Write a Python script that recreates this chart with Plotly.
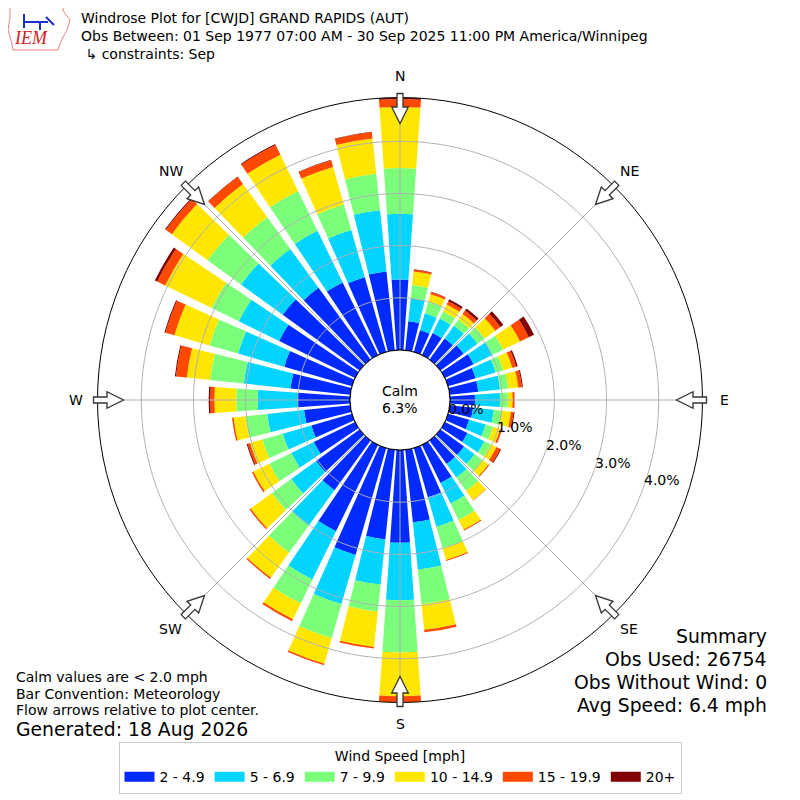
import numpy as np
import plotly.graph_objects as go

# wind direction bins (degrees, meteorological convention)
directions = list(range(0, 360, 10))

speed_bins = ["2 - 4.9", "5 - 6.9", "7 - 9.9", "10 - 14.9", "15 - 19.9", "20+"]
bin_colors = ["#002aff", "#00d4ff", "#7bff7b", "#ffe600", "#ff4800", "#800000"]

# cumulative frequency [%] at the top of each speed class
cum_2_49 = [1.35, 0.56, 0.43, 0.47, 0.50, 0.55, 0.61, 0.55, 0.55, 0.48, 0.45, 0.42,
            0.48, 0.56, 0.56, 0.81, 0.98, 1.40, 1.78, 1.73, 2.13, 1.84, 1.18, 1.03,
            0.88, 0.81, 0.89, 1.00, 1.15, 1.35, 1.62, 1.82, 1.70, 1.55, 1.49, 1.52]
cum_5_69 = [2.61, 1.00, 0.77, 0.78, 0.80, 0.88, 1.02, 0.95, 0.97, 0.96, 0.85, 0.75,
            0.84, 0.81, 0.88, 1.25, 1.57, 2.31, 2.88, 2.60, 3.11, 2.87, 2.02, 1.62,
            1.36, 1.38, 1.60, 1.77, 2.05, 2.27, 2.48, 2.81, 2.62, 2.65, 2.43, 2.70]
cum_7_99 = [3.49, 1.26, 1.01, 0.93, 0.95, 1.05, 1.24, 1.10, 1.13, 1.11, 1.00, 0.90,
            0.98, 1.00, 1.20, 1.60, 2.00, 2.98, 3.88, 3.12, 3.79, 3.38, 2.66, 2.08,
            1.83, 1.79, 2.02, 2.18, 2.70, 2.84, 3.06, 3.60, 3.37, 3.50, 2.94, 3.40]
cum_10_149 = [4.66, 1.52, 1.15, 1.08, 1.08, 1.30, 1.60, 1.28, 1.32, 1.20, 1.18, 1.04,
              1.10, 1.14, 1.41, 1.81, 2.23, 3.47, 4.72, 3.80, 4.30, 3.72, 3.25, 2.58,
              2.17, 2.03, 2.25, 2.60, 3.15, 3.54, 4.05, 4.45, 4.16, 4.27, 3.69, 4.08]
cum_15_199 = [4.81, 1.55, 1.19, 1.15, 1.16, 1.42, 1.79, 1.36, 1.39, 1.24, 1.23, 1.08,
              1.18, 1.16, 1.42, 1.83, 2.25, 3.52, 4.84, 3.83, 4.33, 3.76, 3.28, 2.61,
              2.20, 2.08, 2.28, 2.68, 3.36, 3.72, 4.22, 4.59, 4.33, 4.48, 3.82, 4.20]
cum_20p = [4.84, 1.56, 1.20, 1.19, 1.21, 1.49, 1.90, 1.39, 1.41, 1.24, 1.25, 1.08,
           1.20, 1.16, 1.42, 1.83, 2.25, 3.52, 4.84, 3.83, 4.33, 3.76, 3.28, 2.61,
           2.20, 2.10, 2.28, 2.71, 3.38, 3.74, 4.27, 4.61, 4.34, 4.50, 3.83, 4.21]

calm_pct = 6.3
radial_ticks = [0, 1, 2, 3, 4]
compass_angles = [0, 45, 90, 135, 180, 225, 270, 315]
compass_names = ["N", "NE", "E", "SE", "S", "SW", "W", "NW"]

title_lines = ["Windrose Plot for [CWJD] GRAND RAPIDS (AUT)",
               "Obs Between: 01 Sep 1977 07:00 AM - 30 Sep 2025 11:00 PM America/Winnipeg",
               " \u21b3 constraints: Sep"]
notes = ["Calm values are < 2.0 mph", "Bar Convention: Meteorology",
         "Flow arrows relative to plot center."]
summary = ["Summary", "Obs Used: 26754", "Obs Without Wind: 0", "Avg Speed: 6.4 mph"]

FONT = "DejaVu Sans"
OFF = 8                    # default body margin of the html page
W = H = 792                # figure size, so that page px 8..800 is the figure
CX, CY = 400, 400          # page px
R_OUT = 302.5              # outer ring radius px
R_HOLE = 50                # calm circle radius px

cum = np.array([cum_2_49, cum_5_69, cum_7_99, cum_10_149, cum_15_199, cum_20p])
freq = np.diff(np.vstack([np.zeros(len(directions)), cum]), axis=0)
rmax = cum[-1].max()


def px_to_paper(x, y):
    # page pixel -> paper coords
    return (x - OFF) / W, 1 - (y - OFF) / H


def polar_px(theta, rpx):
    t = np.radians(theta)
    return CX + rpx * np.sin(t), CY - rpx * np.cos(t)


def text(x, y, s, size=14, xa="center", ya="middle", **kw):
    px, py = px_to_paper(x, y)
    font = dict(family=FONT, size=size, color="black")
    font.update(kw.pop("font", {}))
    return dict(x=px, y=py, text=s, showarrow=False, xref="paper", yref="paper",
                xanchor=xa, yanchor=ya, font=font, **kw)


fig = go.Figure()

for i, name in enumerate(speed_bins):
    fig.add_trace(go.Barpolar(r=freq[i], theta=directions, width=8, name=name,
                              legendgroup=name, showlegend=False,
                              marker=dict(color=bin_colors[i], line=dict(width=0))))
    # legend handle: a wide flat patch like the matplotlib legend
    fig.add_trace(go.Scatterpolar(r=[None], theta=[None], mode="lines", name=name,
                                  legendgroup=name,
                                  line=dict(color=bin_colors[i], width=10)))

# grid drawn over the bars like the original
ring_theta = np.linspace(0, 360, 361)
for v in radial_ticks[1:]:
    fig.add_trace(go.Scatterpolar(r=[v] * len(ring_theta), theta=ring_theta, mode="lines",
                                  line=dict(color="#b0b0b0", width=1), showlegend=False,
                                  hoverinfo="skip"))
for a in compass_angles:
    fig.add_trace(go.Scatterpolar(r=[0, rmax], theta=[a, a], mode="lines",
                                  line=dict(color="#b0b0b0", width=1), showlegend=False,
                                  hoverinfo="skip"))
fig.add_trace(go.Scatterpolar(r=[0] * len(ring_theta), theta=ring_theta, mode="lines",
                              line=dict(color="black", width=1), showlegend=False,
                              hoverinfo="skip"))

annotations = []
for a, lab in zip(compass_angles, compass_names):
    annotations.append(text(*polar_px(a, 324), lab))

# radial labels, anchored on the rings along 110 deg
for v in radial_ticks:
    rpx = R_HOLE + v * (R_OUT - R_HOLE) / rmax
    x, y = polar_px(110, rpx)
    annotations.append(text(x - 1, y + 2, f"{v:.1f}%", xa="left", ya="bottom"))

annotations.append(text(CX, CY - 9, "Calm"))
annotations.append(text(CX, CY + 8, f"{calm_pct}%"))

for i, line in enumerate(title_lines):
    annotations.append(text(79, 18 + i * 18, line, xa="left"))

for i, line in enumerate(notes):
    annotations.append(text(14, 677 + i * 16.5, line, xa="left"))
annotations.append(text(14, 729, "Generated: 18 Aug 2026", size=18.8, xa="left"))

for i, line in enumerate(summary):
    annotations.append(text(769, 636 + i * 23.3, line, size=18.8, xa="right"))

# IEM logo (rough)
annotations.append(text(31, 38, "<i>IEM</i>", size=18,
                        font=dict(family="Liberation Serif", color="#d62020")))

shapes = []
# flow arrows pointing to the center
outline = [(306.5, -3), (293, -3), (293, -8.3), (276.5, 0), (293, 8.3), (293, 3), (306.5, 3)]
for a in compass_angles:
    t = np.radians(a)
    pts = []
    for s, w in outline:
        px = CX + s * np.sin(t) + w * np.cos(t)
        py = CY - s * np.cos(t) + w * np.sin(t)
        pts.append(px_to_paper(px, py))
    path = "M" + " L".join(f"{x:.5f},{y:.5f}" for x, y in pts) + " Z"
    shapes.append(dict(type="path", path=path, xref="paper", yref="paper",
                       fillcolor="white", line=dict(color="#333333", width=1.3)))

logo = [(10, 5), (62, 5), (64, 12), (70, 20), (67, 30), (63, 37), (60, 44), (58, 50),
        (13, 50), (11, 40), (8, 30), (10, 18)]
path = "M" + " L".join("%.5f,%.5f" % px_to_paper(x, y) for x, y in logo) + " Z"
shapes.append(dict(type="path", path=path, xref="paper", yref="paper",
                   line=dict(color="#f08080", width=1)))
for seg in [[(24, 22), (48, 22)], [(24, 14), (24, 28)], [(46, 17), (54, 25)], [(40, 22), (40, 30)]]:
    path = "M" + " L".join("%.5f,%.5f" % px_to_paper(x, y) for x, y in seg)
    shapes.append(dict(type="path", path=path, xref="paper", yref="paper",
                       line=dict(color="#1a2fcc", width=2)))

dx0, dy1 = px_to_paper(CX - R_OUT, CY - R_OUT)
dx1, dy0 = px_to_paper(CX + R_OUT, CY + R_OUT)
lx, ly = px_to_paper(400, 742)

fig.update_layout(
    width=W, height=H,
    margin=dict(l=0, r=0, t=0, b=0),
    paper_bgcolor="white",
    font=dict(family=FONT, size=14, color="black"),
    polar=dict(
        domain=dict(x=[dx0, dx1], y=[dy0, dy1]),
        hole=R_HOLE / R_OUT,
        bgcolor="white",
        barmode="stack",
        radialaxis=dict(range=[0, rmax], showgrid=False, showline=False,
                        showticklabels=False, ticks=""),
        angularaxis=dict(rotation=90, direction="clockwise", showgrid=False,
                         showticklabels=False, ticks="", showline=True,
                         linecolor="black", linewidth=1),
    ),
    legend=dict(orientation="h", x=lx, xanchor="center", y=ly, yanchor="top",
                title=dict(text="Wind Speed [mph]", side="top center",
                           font=dict(family=FONT, size=14)),
                bordercolor="#cccccc", borderwidth=1, font=dict(family=FONT, size=14),
                traceorder="normal"),
    annotations=annotations,
    shapes=shapes,
)

fig.write_html("out.html")
